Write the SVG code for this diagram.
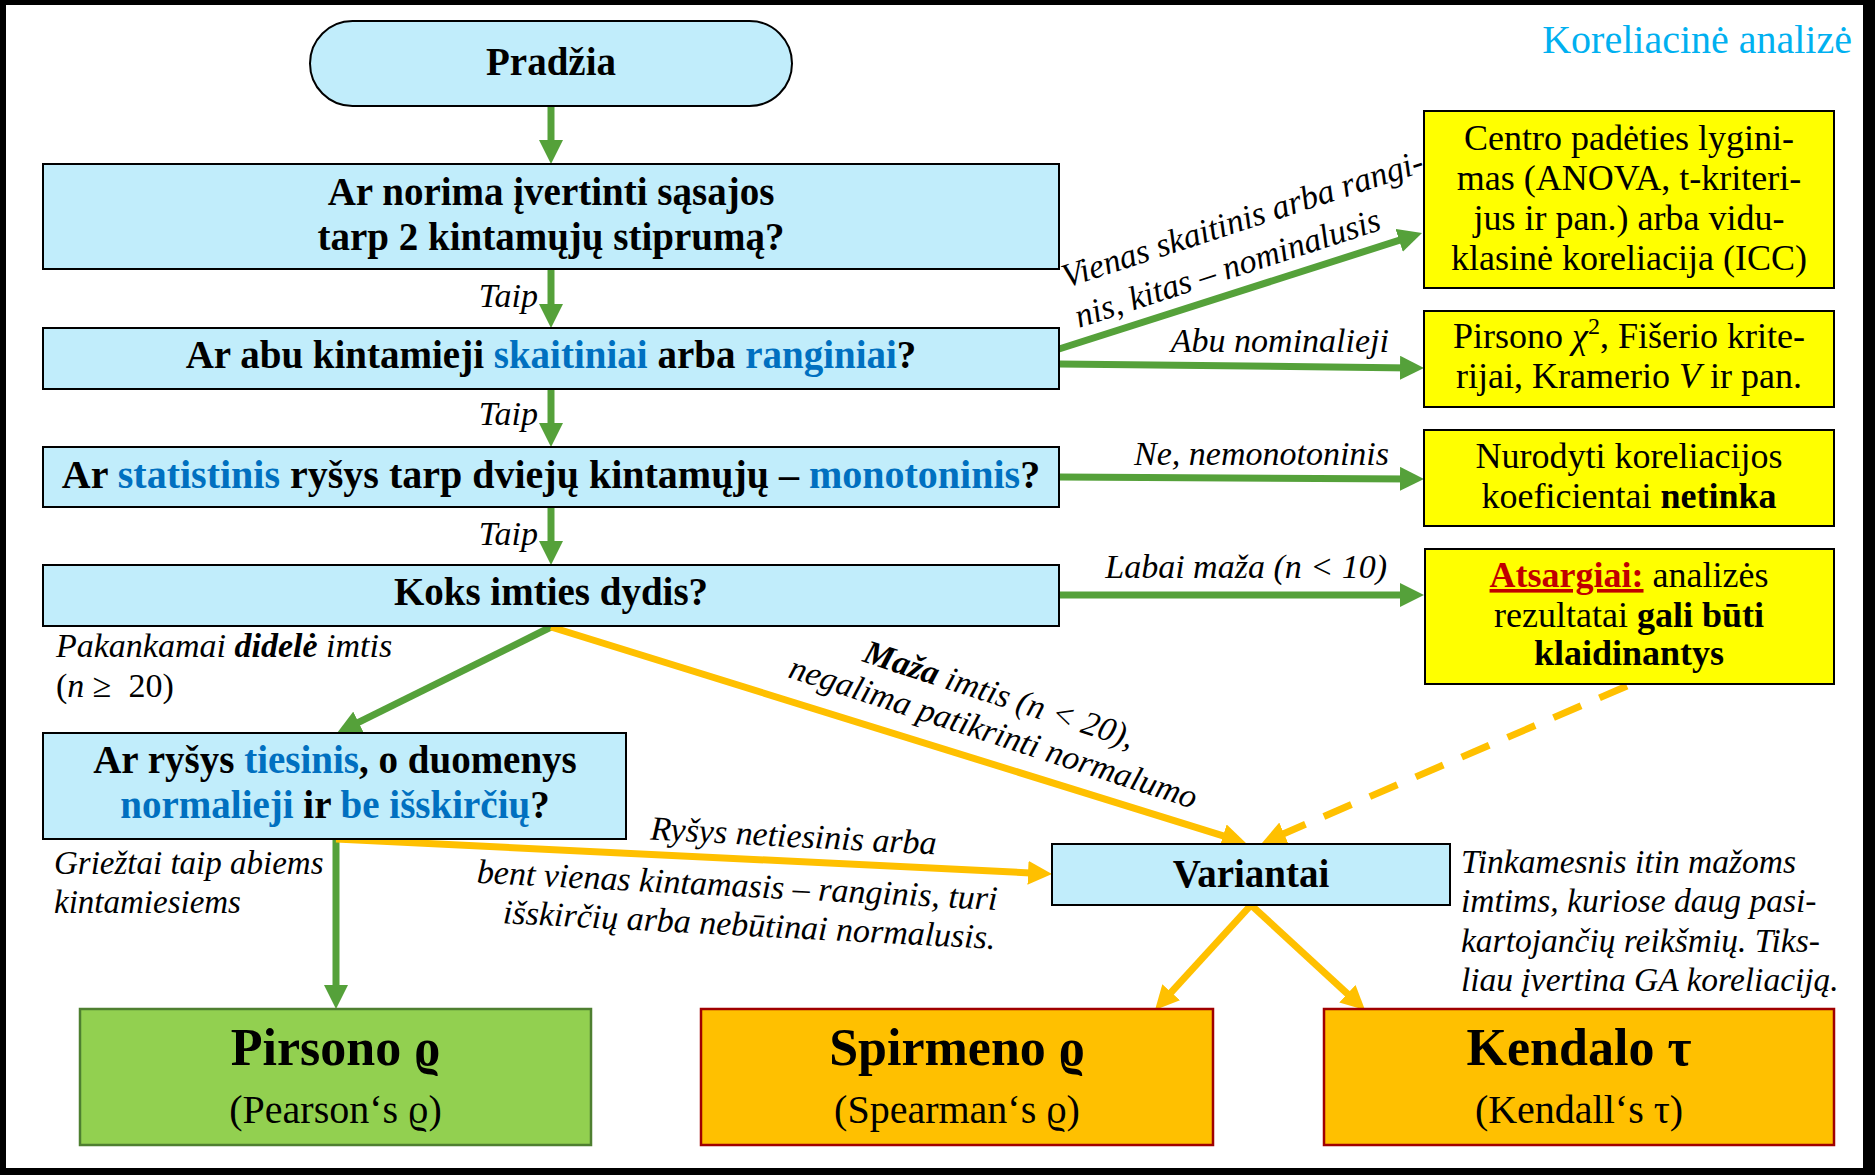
<svg xmlns="http://www.w3.org/2000/svg" width="1875" height="1175" viewBox="0 0 1875 1175">
<defs>
<style>
text{font-family:"Liberation Serif","DejaVu Serif",serif;fill:#000}
.q{font-size:39px;font-weight:bold;text-anchor:middle}
.r{font-size:36px;text-anchor:middle}
.l{font-size:34px;font-style:italic}
.big{font-size:52px;font-weight:bold;text-anchor:middle}
.sub{font-size:40px;text-anchor:middle}
.b{fill:#0070C0}
.nb{fill:#C1EDFB;stroke:#000;stroke-width:2}
.ny{fill:#FFFF00;stroke:#000;stroke-width:2}
.no{fill:#FFC000;stroke:#A00000;stroke-width:2.5}
.g{stroke:#55A13A;stroke-width:7;fill:none;marker-end:url(#ag)}
.y{stroke:#FFC000;stroke-width:7;fill:none;marker-end:url(#ay)}
</style>
<marker id="ag" markerUnits="userSpaceOnUse" viewBox="0 0 24 24" markerWidth="24" markerHeight="24" refX="12" refY="12" orient="auto"><path d="M0,0 L24,12 L0,24 z" fill="#55A13A"/></marker>
<marker id="ay" markerUnits="userSpaceOnUse" viewBox="0 0 24 24" markerWidth="24" markerHeight="24" refX="12" refY="12" orient="auto"><path d="M0,0 L24,12 L0,24 z" fill="#FFC000"/></marker>
</defs>
<rect x="0" y="0" width="1875" height="1175" fill="#000"/>
<rect x="6" y="5" width="1857" height="1163" fill="#fff"/>
<text x="1852" y="53" style="font-size:40px;fill:#00B0F0;text-anchor:end">Koreliacinė analizė</text>

<g id="connectors">
<path class="g" d="M551,106 L551,152"/>
<path class="g" d="M551,269 L551,316"/>
<path class="g" d="M551,389 L551,435"/>
<path class="g" d="M551,507 L551,553"/>
<path class="g" d="M1059,349 L1410.6,236.7"/>
<path class="g" d="M1059,364 L1412,367.9"/>
<path class="g" d="M1059,477 L1412,478.9"/>
<path class="g" d="M1059,595 L1412,595"/>
<path class="g" d="M551,627 L347.8,727.7"/>
<path class="g" d="M336,839 L336,997"/>
<path class="y" d="M551,627 L1234.5,839.4"/>
<path class="y" d="M1627,686 L1273,838.3" stroke-dasharray="30 20"/>
<path class="y" d="M336,839 L1040,873.4"/>
<path class="y" d="M1251,905 L1163.1,1001.1"/>
<path class="y" d="M1251,905 L1356.2,1001.9"/>
<text class="l" x="538" y="307" text-anchor="end">Taip</text>
<text class="l" x="538" y="425" text-anchor="end">Taip</text>
<text class="l" x="538" y="545" text-anchor="end">Taip</text>
<g transform="translate(1066,288) rotate(-18)">
<text class="l" x="0" y="0">Vienas skaitinis arba rangi-</text>
<text class="l" x="0" y="42">nis, kitas – nominalusis</text>
</g>
<text class="l" x="1389" y="352" text-anchor="end">Abu nominalieji</text>
<text class="l" x="1389" y="465" text-anchor="end">Ne, nemonotoninis</text>
<text class="l" x="1387" y="578" text-anchor="end">Labai maža (n &lt; 10)</text>
<text class="l" x="56" y="657">Pakankamai <tspan font-weight="bold">didelė</tspan> imtis</text>
<text x="56" y="697" style="font-size:34px">(<tspan font-style="italic">n</tspan> ≥&#160;&#160;20)</text>
<g transform="translate(996,705) rotate(18)">
<text class="l" x="0" y="0" text-anchor="middle"><tspan font-weight="bold">Maža</tspan> imtis (n &lt; 20),</text>
<text class="l" x="6" y="38" text-anchor="middle">negalima patikrinti normalumo</text>
</g>
<text class="l" x="54" y="874" style="font-size:33px">Griežtai taip abiems</text>
<text class="l" x="54" y="913" style="font-size:33px">kintamiesiems</text>
<g transform="translate(793,847) rotate(3)">
<text class="l" x="0" y="0" text-anchor="middle">Ryšys netiesinis arba</text>
</g>
<g transform="translate(997,910) rotate(3)">
<text class="l" x="0" y="0" text-anchor="end">bent vienas kintamasis – ranginis, turi</text>
<text class="l" x="0" y="39" text-anchor="end">išskirčių arba nebūtinai normalusis.</text>
</g>
<g>
<text class="l" x="1461" y="873" style="font-size:33.5px">Tinkamesnis itin mažoms</text>
<text class="l" x="1461" y="912" style="font-size:33.5px">imtims, kuriose daug pasi-</text>
<text class="l" x="1461" y="952" style="font-size:33.5px">kartojančių reikšmių. Tiks-</text>
<text class="l" x="1461" y="991" style="font-size:33.5px">liau įvertina GA koreliaciją.</text>
</g>
</g>

<g id="start">
<rect class="nb" x="310" y="21" width="482" height="85" rx="42.5"/>
<text class="q" x="551" y="75">Pradžia</text>
</g>
<g id="q1">
<rect class="nb" x="43" y="164" width="1016" height="105"/>
<text class="q" x="551" y="205">Ar norima įvertinti sąsajos</text>
<text class="q" x="551" y="250">tarp 2 kintamųjų stiprumą?</text>
</g>
<g id="q2">
<rect class="nb" x="43" y="328" width="1016" height="61"/>
<text class="q" x="551" y="368">Ar abu kintamieji <tspan class="b">skaitiniai</tspan> arba <tspan class="b">ranginiai</tspan>?</text>
</g>
<g id="q3">
<rect class="nb" x="43" y="447" width="1016" height="60"/>
<text class="q" x="551" y="488" style="font-size:40px">Ar <tspan class="b">statistinis</tspan> ryšys tarp dviejų kintamųjų – <tspan class="b">monotoninis</tspan>?</text>
</g>
<g id="q4">
<rect class="nb" x="43" y="565" width="1016" height="61"/>
<text class="q" x="551" y="605">Koks imties dydis?</text>
</g>
<g id="q5">
<rect class="nb" x="43" y="733" width="583" height="106"/>
<text class="q" x="335" y="773">Ar ryšys <tspan class="b">tiesinis</tspan>, o duomenys</text>
<text class="q" x="335" y="818"><tspan class="b">normalieji</tspan> ir <tspan class="b">be išskirčių</tspan>?</text>
</g>
<g id="variants">
<rect class="nb" x="1052" y="844" width="398" height="61"/>
<text class="q" x="1251" y="887">Variantai</text>
</g>
<g id="r1">
<rect class="ny" x="1424" y="111" width="410" height="177"/>
<text class="r" x="1629" y="150">Centro padėties lygini-</text>
<text class="r" x="1629" y="190">mas (ANOVA, t-kriteri-</text>
<text class="r" x="1629" y="230">jus ir pan.) arba vidu-</text>
<text class="r" x="1629" y="270">klasinė koreliacija (ICC)</text>
</g>
<g id="r2">
<rect class="ny" x="1424" y="311" width="410" height="96"/>
<text class="r" x="1629" y="348">Pirsono <tspan font-style="italic">χ</tspan><tspan dy="-14" font-size="24">2</tspan><tspan dy="14">, Fišerio krite-</tspan></text>
<text class="r" x="1629" y="388">rijai, Kramerio <tspan font-style="italic">V</tspan> ir pan.</text>
</g>
<g id="r3">
<rect class="ny" x="1424" y="430" width="410" height="96"/>
<text class="r" x="1629" y="468">Nurodyti koreliacijos</text>
<text class="r" x="1629" y="508">koeficientai <tspan font-weight="bold">netinka</tspan></text>
</g>
<g id="r4">
<rect class="ny" x="1425" y="549" width="409" height="135"/>
<text class="r" x="1629" y="587"><tspan font-weight="bold" fill="#C00000" text-decoration="underline">Atsargiai:</tspan> analizės</text>
<text class="r" x="1629" y="627">rezultatai <tspan font-weight="bold">gali būti</tspan></text>
<text class="r" x="1629" y="665" font-weight="bold">klaidinantys</text>
</g>
<g id="pearson">
<rect x="80" y="1009" width="511" height="136" fill="#92D050" stroke="#4E7F30" stroke-width="2.5"/>
<text class="big" x="335.5" y="1065">Pirsono ϱ</text>
<text class="sub" x="335.5" y="1123">(Pearson‘s ϱ)</text>
</g>
<g id="spearman">
<rect class="no" x="701" y="1009" width="512" height="136"/>
<text class="big" x="957" y="1065">Spirmeno ϱ</text>
<text class="sub" x="957" y="1123">(Spearman‘s ϱ)</text>
</g>
<g id="kendall">
<rect class="no" x="1324" y="1009" width="510" height="136"/>
<text class="big" x="1579" y="1065">Kendalo τ</text>
<text class="sub" x="1579" y="1123">(Kendall‘s τ)</text>
</g>
</svg>
